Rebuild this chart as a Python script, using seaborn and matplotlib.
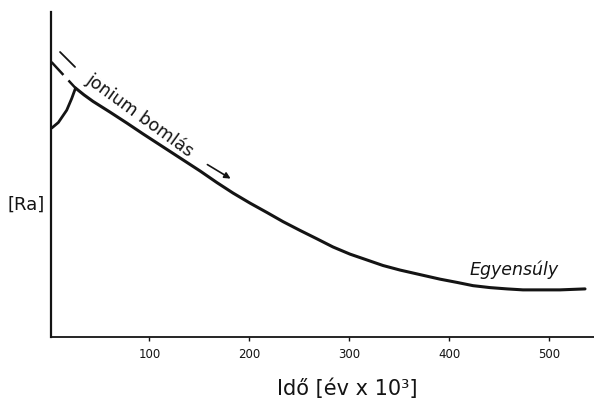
import matplotlib
matplotlib.use("Agg")
import matplotlib.pyplot as plt
import seaborn as sns
import pandas as pd

# Time in thousands of years, radium content in arbitrary units
t_rise = [2.4, 9.0, 17.4, 22.4, 26.2]
ra_rise = [64.3, 66.0, 69.8, 73.4, 76.6]

t_extrap = [2.2, 26.2]
ra_extrap = [84.6, 76.6]

t_decay = [26.2, 34.7, 43.7, 60.7, 77.7, 93.7, 110.7, 130.7, 150.7, 167.7,
           183.7, 200.7, 217.7, 233.7, 250.7, 267.7, 283.7, 300.7, 317.7,
           333.7, 350.7, 370.7, 390.7, 407.7, 423.7, 440.7, 457.7, 473.7,
           490.7, 510.7, 535.7]
ra_decay = [76.6, 74.5, 72.5, 69.2, 65.8, 62.5, 59.1, 55.1, 51.1, 47.5,
            44.3, 41.2, 38.3, 35.5, 32.8, 30.2, 27.7, 25.5, 23.7,
            22.0, 20.6, 19.2, 17.8, 16.8, 15.8, 15.2, 14.8, 14.5,
            14.5, 14.5, 14.8]

x_ticks = [100, 200, 300, 400, 500]
x_label = "Idő [év x 10³]"
y_label = "[Ra]"
decay_label = "jonium bomlás"
equilibrium_label = "Egyensúly"

sns.set_theme(style="ticks")
plt.rcParams["font.family"] = ["DejaVu Sans"]

ink = "#141414"
fig = plt.figure(figsize=(5.94, 4.01), dpi=100)
fig.patch.set_facecolor("white")
ax = fig.add_axes([0.0854, 0.1596, 0.9146, 0.8104])
ax.set_facecolor("white")

rise = pd.DataFrame({"t": t_rise, "ra": ra_rise})
decay = pd.DataFrame({"t": t_decay, "ra": ra_decay})
extrap = pd.DataFrame({"t": t_extrap, "ra": ra_extrap})

sns.lineplot(data=rise, x="t", y="ra", ax=ax, color=ink, lw=2.0,
             estimator=None, sort=False)
sns.lineplot(data=decay, x="t", y="ra", ax=ax, color=ink, lw=2.2,
             estimator=None, sort=False)
sns.lineplot(data=extrap, x="t", y="ra", ax=ax, color=ink, lw=1.8,
             estimator=None, sort=False)
ax.lines[-1].set_dashes([7, 3])
for ln in ax.lines:
    ln.set_solid_joinstyle("round")
    ln.set_solid_capstyle("round")

ax.set_xlim(1.4, 544.7)
ax.set_ylim(0, 100)
ax.set_xticks(x_ticks)
ax.set_xticklabels([str(v) for v in x_ticks], fontsize=8.5, color=ink)
ax.set_yticks([])
ax.tick_params(axis="x", direction="out", length=3, width=1, color=ink, pad=5)
ax.set_xlabel("")
ax.set_ylabel("")
for side in ("top", "right"):
    ax.spines[side].set_visible(False)
ax.spines["left"].set_linewidth(1.6)
ax.spines["bottom"].set_linewidth(1.3)
ax.spines["left"].set_color(ink)
ax.spines["bottom"].set_color(ink)

# "— jonium bomlás —→" annotation running along the decay branch
ax.plot([10.7, 25.7], [87.7, 83.1], color=ink, lw=1.3)
ax.text(90.7, 68.3, decay_label, rotation=-36, rotation_mode="anchor",
        ha="center", va="center", fontsize=12.5, color=ink)
ax.annotate("", xy=(183.7, 48.3), xytext=(155.7, 53.5),
            arrowprops=dict(arrowstyle="-|>", color=ink, lw=1.2,
                            mutation_scale=9))

ax.text(464.7, 20.6, equilibrium_label, ha="center", va="center",
        fontsize=12.5, style="italic", color=ink)

fig.text(26.5 / 594, 1 - 205 / 401, y_label, ha="center", va="center",
         fontsize=13, color=ink)
fig.text(347 / 594, 1 - 389 / 401, x_label, ha="center", va="center",
         fontsize=15, color=ink)

fig.savefig("out.png", dpi=100, facecolor="white")
